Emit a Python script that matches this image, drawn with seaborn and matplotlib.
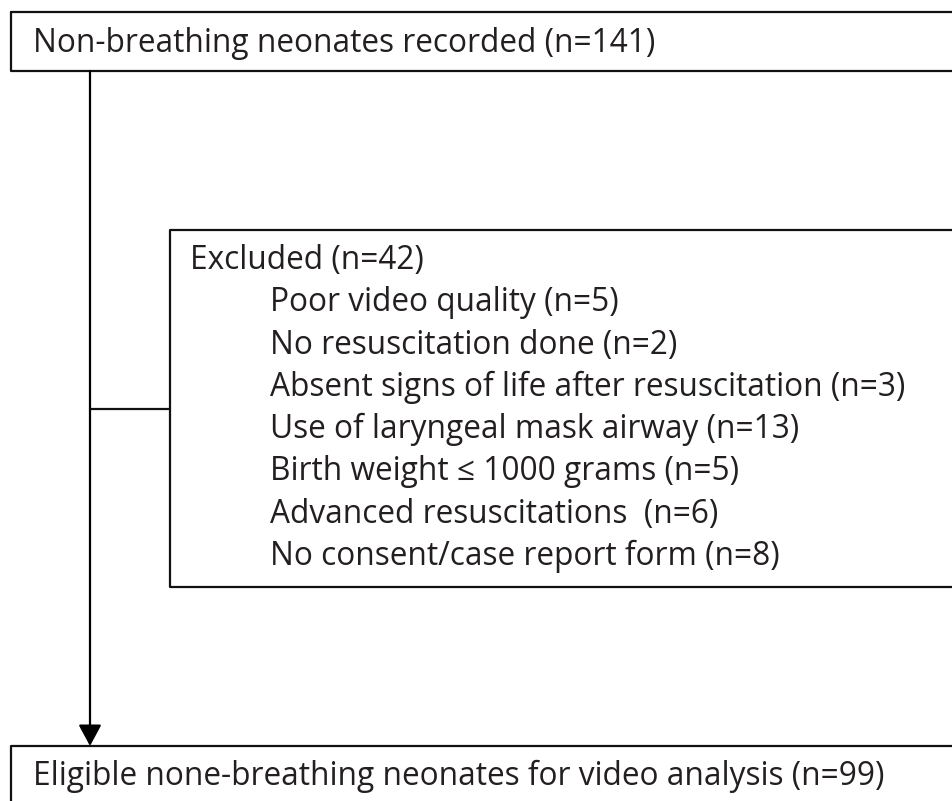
import matplotlib
matplotlib.use("Agg")
import matplotlib.pyplot as plt
import seaborn as sns

sns.set_style("white")
plt.rcParams['font.family'] = ['Open Sans', 'DejaVu Sans']

top_label = "Non-breathing neonates recorded"
top_n = 141
excl_label = "Excluded"
excl_n = 42
reasons = ["Poor video quality", "No resuscitation done",
           "Absent signs of life after resuscitation",
           "Use of laryngeal mask airway", "Birth weight \u2264 1000 grams",
           "Advanced resuscitations ", "No consent/case report form"]
reason_n = [5, 2, 3, 13, 5, 6, 8]
bottom_label = "Eligible none-breathing neonates for video analysis"
bottom_n = 99

W, H = 952, 801
fig = plt.figure(figsize=(W / 100, H / 100), dpi=100)
ax = fig.add_axes([0, 0, 1, 1])
ax.set_xlim(0, W)
ax.set_ylim(H, 0)
ax.axis("off")

lw = 1.6
col = "#111111"
fs = 22.8
tc = "#231f20"

# top box
ax.plot([11, 11, W + 5], [12, 71, 71], color=col, lw=lw)
ax.plot([11, W + 5], [12, 12], color=col, lw=lw)
ax.text(33, 52, f"{top_label} (n={top_n})", fontsize=fs, color=tc, va="baseline", ha="left")

# excluded box
ax.plot([W + 5, 170, 170, W + 5], [230, 230, 587, 587], color=col, lw=lw)
ax.plot([90, 170], [409, 409], color=col, lw=lw)
lines = [f"{excl_label} (n={excl_n})"] + [f"{r} (n={n})" for r, n in zip(reasons, reason_n)]
for i, t in enumerate(lines):
    x = 190 if i == 0 else 270
    ax.text(x, 269 + i * 42.3, t, fontsize=fs, color=tc, va="baseline", ha="left")

# vertical arrow
ax.annotate("", xy=(90, 746), xytext=(90, 71),
            arrowprops=dict(arrowstyle="-|>,head_length=1.3,head_width=0.7",
                            color="black", lw=lw, shrinkA=0, shrinkB=0))

# bottom box
ax.plot([11, 11, W + 5], [H + 5, 746, 746], color=col, lw=lw)
ax.text(33, 785, f"{bottom_label} (n={bottom_n})", fontsize=fs, color=tc, va="baseline", ha="left")

fig.savefig("out.png", dpi=100)
